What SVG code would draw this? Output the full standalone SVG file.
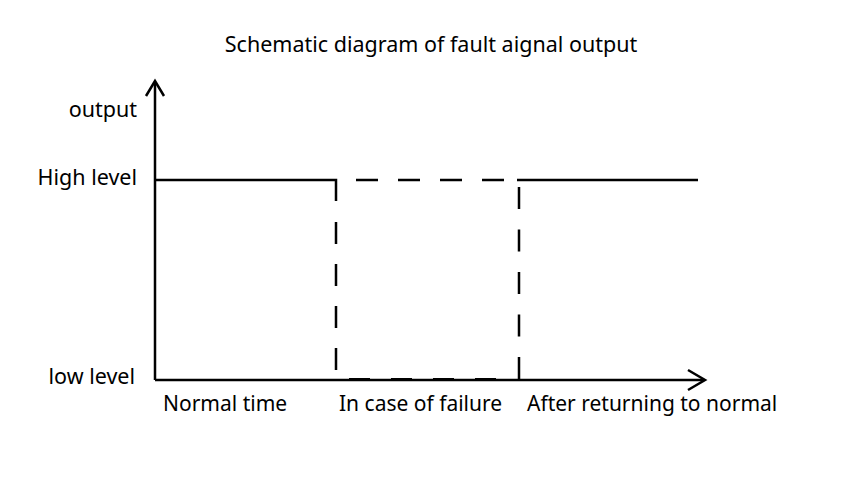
<svg xmlns="http://www.w3.org/2000/svg" width="846" height="477" viewBox="0 0 846 477">
<style>
text{font-family:"Noto Sans","Open Sans","DejaVu Sans",sans-serif;font-size:21.5px;fill:#000}
.sm{font-size:21px}
.ln{stroke:#000;stroke-width:2.5;fill:none}
.ax{stroke:#000;stroke-width:2.5;fill:none}
</style>
<rect width="846" height="477" fill="#fff"/>
<g id="title"><text x="431" y="52" text-anchor="middle">Schematic diagram of fault aignal output</text></g>
<g id="axes">
<path class="ax" d="M155,380 V82"/>
<path class="ax" d="M146,96 L155,81 L164,96"/>
<path class="ax" d="M155,380 H704"/>
<path class="ax" d="M688,370 L705,380 L688,390"/>
</g>
<g id="labels">
<text x="137" y="117" text-anchor="end">output</text>
<text x="137" y="185" text-anchor="end">High level</text>
<text x="135" y="384" text-anchor="end">low level</text>
<text class="sm" x="163" y="411">Normal time</text>
<text class="sm" x="339" y="411">In case of failure</text>
<text class="sm" x="527" y="411">After returning to normal</text>
</g>
<g id="connectors">
<path class="ln" d="M156,180 H336 V201"/>
<path class="ln" d="M336,222 V371" stroke-dasharray="22 20"/>
<path class="ln" d="M356,180 H505" stroke-dasharray="22 20"/>
<path class="ln" d="M349,379.2 H498" stroke-dasharray="21 21"/>
<path class="ln" d="M517,180 H698"/>
<path class="ln" d="M519,187 V380" stroke-dasharray="22 20.5"/>
</g>
</svg>
